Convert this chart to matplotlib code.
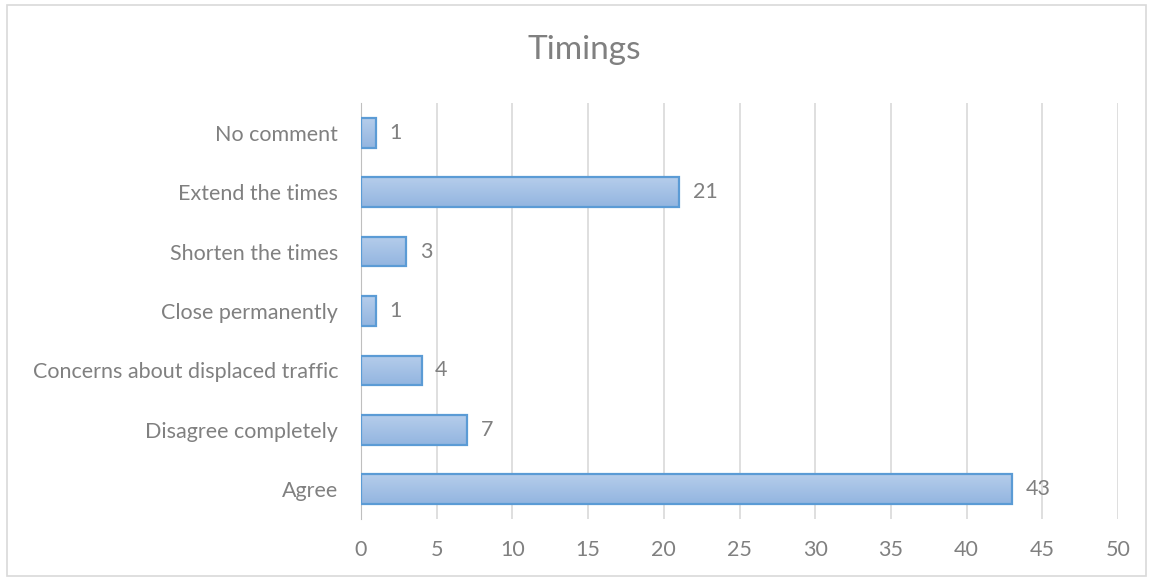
import matplotlib
matplotlib.use("Agg")
import matplotlib.pyplot as plt
import matplotlib.patches as patches
import numpy as np

categories = ["Agree", "Disagree completely", "Concerns about displaced traffic",
              "Close permanently", "Shorten the times", "Extend the times", "No comment"]
values = [43, 7, 4, 1, 3, 21, 1]
xticks = [0, 5, 10, 15, 20, 25, 30, 35, 40, 45, 50]

grey = "#808080"
plt.rcParams["font.family"] = ["Lato", "DejaVu Sans"]

fig = plt.figure(figsize=(11.51, 5.77), dpi=100)
fig.patches.append(patches.Rectangle((7 / 1151, 1 - 576 / 577), 1139 / 1151, 571 / 577,
                                      transform=fig.transFigure, fill=False,
                                      edgecolor="#d9d9d9", linewidth=1.2))
ax = fig.add_axes([361 / 1151, 1 - 519 / 577, 757 / 1151, 416 / 577])

y = np.arange(len(categories))
bars = ax.barh(y, values, height=0.5, facecolor="none", edgecolor="#5b9bd5",
               linewidth=1.6, zorder=3)

# vertical gradient inside each bar: darker at the bottom, lighter at the top
grad = np.linspace(0, 1, 64).reshape(-1, 1)
cmap = matplotlib.colors.LinearSegmentedColormap.from_list("g", ["#93b5e0", "#b5cdeb"])
for b in bars:
    x0, y0, w, h = b.get_x(), b.get_y(), b.get_width(), b.get_height()
    im = ax.imshow(grad, cmap=cmap, aspect="auto", extent=(x0, x0 + w, y0, y0 + h),
                   origin="lower", zorder=2)
    im.set_clip_path(b)

for yi, v in zip(y, values):
    ax.text(v + 0.9, yi, str(v), va="center", ha="left", fontsize=15.5, color=grey)

ax.set_xlim(0, 50)
ax.set_ylim(-0.5, len(categories) - 0.5)
ax.set_xticks(xticks)
ax.set_yticks(y)
ax.set_yticklabels(categories)
ax.grid(axis="x", color="#d9d9d9", linewidth=1.2, zorder=0)
for s in ["top", "right", "bottom"]:
    ax.spines[s].set_visible(False)
ax.spines["left"].set_color("#bfbfbf")
ax.tick_params(axis="both", length=0, labelsize=15.5, colors=grey)
ax.tick_params(axis="x", pad=15)
ax.tick_params(axis="y", pad=16.5)

fig.text(584 / 1151, 1 - 50 / 577, "Timings", ha="center", va="center", fontsize=24, color=grey)

fig.savefig("out.png", dpi=100)
